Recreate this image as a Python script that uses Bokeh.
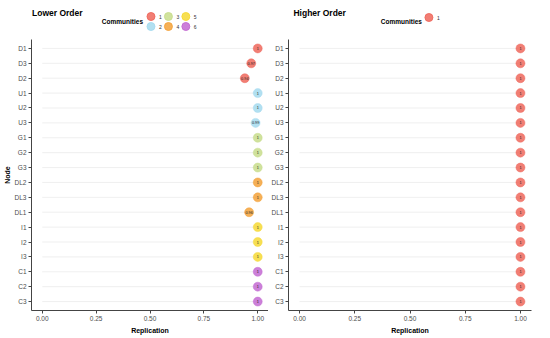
from bokeh.plotting import figure
from bokeh.layouts import row, column
from bokeh.models import FactorRange, Range1d, FixedTicker, ColumnDataSource
from bokeh.embed import file_html
from bokeh.resources import INLINE
from bokeh.core.properties import value

# ---------------- data ----------------
nodes = ["D1", "D3", "D2", "U1", "U2", "U3", "G1", "G2", "G3",
         "DL2", "DL3", "DL1", "I1", "I2", "I3", "C1", "C2", "C3"]
lower_values = [1.00, 0.97, 0.94, 1.00, 1.00, 0.99, 1.00, 1.00, 1.00,
                1.00, 1.00, 0.96, 1.00, 1.00, 1.00, 1.00, 1.00, 1.00]
lower_comm = [1, 1, 1, 2, 2, 2, 3, 3, 3, 4, 4, 4, 5, 5, 5, 6, 6, 6]
higher_values = [1.00] * 18
higher_comm = [1] * 18
communities_lower = [1, 2, 3, 4, 5, 6]
communities_higher = [1]
comm_colors = {1: "#EE675C", 2: "#A5DAEF", 3: "#C8DD8C", 4: "#F3A23A",
               5: "#F6D935", 6: "#C36AD2"}
x_ticks = [0.0, 0.25, 0.5, 0.75, 1.0]
x_tick_labels = ["0.00", "0.25", "0.50", "0.75", "1.00"]

FONT = "Liberation Sans"
HEADER_H = 36
TOTAL_H = 336


def fmt(v):
    return "1" if v == 1 else f"{v:.2f}"


def make_plot(values, comms, width, border_left, border_right, ylabel):
    factors = list(reversed(nodes))
    p = figure(width=width, height=TOTAL_H - HEADER_H, output_backend="svg",
               toolbar_location=None, x_range=Range1d(-0.05, 1.05),
               y_range=FactorRange(*factors, range_padding=0.1,
                                   range_padding_units="absolute"),
               min_border_left=border_left, min_border_right=border_right,
               min_border_top=3, min_border_bottom=24)
    src = ColumnDataSource(dict(
        node=nodes, val=values, zero=[0.0] * len(nodes),
        color=[comm_colors[c] for c in comms],
        label=[fmt(v) for v in values]))
    p.segment(x0="zero", y0="node", x1="val", y1="node", source=src,
              line_color="#EBEBEB", line_width=0.8)
    p.scatter(x="val", y="node", source=src, size=9, fill_color="color",
              fill_alpha=0.85, line_color="color", line_alpha=0.9, line_width=0.5)
    p.text(x="val", y="node", text="label", source=src, text_font=value(FONT),
           text_font_size="3.8px", text_align="center", text_baseline="middle",
           text_color="#222222")
    p.outline_line_color = None
    p.xgrid.visible = False
    p.ygrid.visible = False
    p.background_fill_color = "white"
    for ax in (p.xaxis[0], p.yaxis[0]):
        ax.axis_line_color = "#444444"
        ax.axis_line_width = 1
        ax.major_tick_line_color = "#444444"
        ax.major_tick_out = 3
        ax.major_tick_in = 0
        ax.minor_tick_line_color = None
        ax.major_label_text_font = FONT
        ax.major_label_text_font_size = "6.5px"
        ax.major_label_text_color = "#4D4D4D"
        ax.major_label_standoff = 2
        ax.axis_label_text_font = FONT
        ax.axis_label_text_font_style = "bold"
        ax.axis_label_text_font_size = "7px"
        ax.axis_label_text_color = "black"
        ax.axis_label_standoff = 3
    p.xaxis.ticker = FixedTicker(ticks=x_ticks)
    p.xaxis.major_label_overrides = {t: l for t, l in zip(x_ticks, x_tick_labels)}
    p.xaxis.axis_label = "Replication"
    if ylabel:
        p.yaxis.axis_label = ylabel
        p.yaxis.axis_label_standoff = 1
    return p


def make_header(width, bl, br, title, title_x, comms, comm_text_x, leg_x0):
    # frame is aligned with the plot below; map data x to figure pixel x
    h = figure(width=width, height=HEADER_H, output_backend="svg",
               toolbar_location=None, x_range=Range1d(bl, width - br),
               y_range=Range1d(HEADER_H, 0), min_border=0)
    h.axis.visible = False
    h.grid.visible = False
    h.outline_line_color = None
    h.text(x=[title_x], y=[12], text=[title], text_font=value(FONT),
           text_font_style="bold", text_font_size="8.5px",
           text_baseline="middle", text_color="black")
    h.text(x=[comm_text_x], y=[21], text=["Communities"], text_font=value(FONT),
           text_font_style="bold", text_font_size="6.5px", text_align="right",
           text_baseline="middle", text_color="black")
    xs, ys, labs, cols = [], [], [], []
    for i, c in enumerate(comms):
        col_i, row_i = i // 2, i % 2
        xs.append(leg_x0 + col_i * 17.5)
        ys.append(17 if len(comms) == 1 else 16 + row_i * 10)
        labs.append(str(c))
        cols.append(comm_colors[c])
    h.scatter(x=xs, y=ys, size=8, fill_color=cols, fill_alpha=0.85,
              line_color=cols, line_alpha=0.9)
    h.text(x=[x + 8 for x in xs], y=ys, text=labs, text_font=value(FONT),
           text_font_size="5px", text_baseline="middle", text_color="#333333")
    return h


LW = 268
RW = 548 - LW
LBL, LBR = 30, 0
RBL, RBR = 19, 17
left_plot = make_plot(lower_values, lower_comm, LW, LBL, LBR, "Node")
right_plot = make_plot(higher_values, higher_comm, RW, RBL, RBR, None)
left_head = make_header(LW, LBL, LBR, "Lower Order", 30.5, communities_lower, 142, 150)
right_head = make_header(RW, RBL, RBR, "Higher Order", 24, communities_higher, 153, 160)

layout = row(column(left_head, left_plot, spacing=0),
             column(right_head, right_plot, spacing=0), spacing=0)

open("out.html", "w").write(file_html(layout, INLINE))
